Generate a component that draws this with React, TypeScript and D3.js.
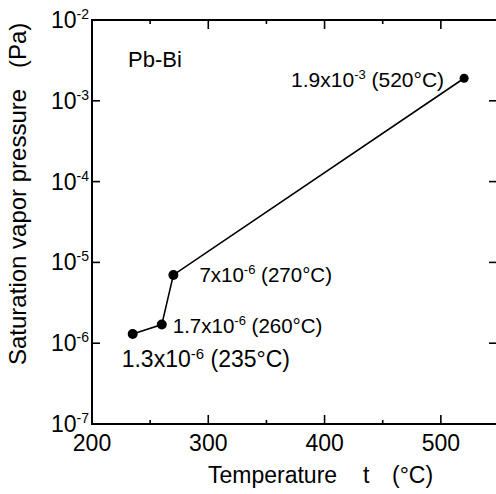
import { useRef, useEffect } from "react";
import * as d3 from "d3";

// measured points: Pb-Bi saturation vapor pressure
const temps = [235, 260, 270, 520];
const pressures = [1.3e-6, 1.7e-6, 7e-6, 1.9e-3];
const mantissas = ["1.3", "1.7", "7", "1.9"];
const exponents = ["-6", "-6", "-6", "-3"];

const xMajor = [200, 300, 400, 500];
const xMinor = [250, 350, 450];
const yDecades = [-2, -3, -4, -5, -6, -7];

// label placement relative to each point (layout only)
const labelOffsets = [
  { dx: -11, dy: 33, anchor: "start", size: 23 },
  { dx: 11, dy: 8, anchor: "start", size: 20.5 },
  { dx: 26, dy: 7, anchor: "start", size: 20.5 },
  { dx: -20, dy: 9, anchor: "end", size: 21 },
];

const FONT = "'Liberation Sans', Arial, sans-serif";

export default function App() {
  const svgRef = useRef<SVGSVGElement>(null);

  useEffect(() => {
    const svg = d3.select(svgRef.current);
    svg.selectAll("*").remove();

    const width = 496;
    const height = 494;
    const left = 92, right = 499, top = 20, bottom = 424;

    const x = d3.scaleLinear().domain([200, 550]).range([left, right]);
    const y = d3.scaleLog().domain([1e-7, 1e-2]).range([bottom, top]);

    svg.attr("width", width).attr("height", height)
      .style("font-family", FONT)
      .style("fill", "#000");

    // frame
    svg.append("rect")
      .attr("x", left).attr("y", top)
      .attr("width", right - left).attr("height", bottom - top)
      .attr("fill", "none").attr("stroke", "#000").attr("stroke-width", 2);

    // x ticks, bottom and top, pointing inward
    const tick = (vals: number[], len: number) => {
      vals.forEach(v => {
        svg.append("line")
          .attr("x1", x(v)).attr("x2", x(v))
          .attr("y1", bottom).attr("y2", bottom - len)
          .attr("stroke", "#000").attr("stroke-width", 1.6);
        svg.append("line")
          .attr("x1", x(v)).attr("x2", x(v))
          .attr("y1", top).attr("y2", top + len)
          .attr("stroke", "#000").attr("stroke-width", 1.6);
      });
    };
    tick(xMajor, 9);
    tick(xMinor, 4);

    // y ticks, left and right
    yDecades.forEach(e => {
      const yy = y(Math.pow(10, e));
      svg.append("line")
        .attr("x1", left).attr("x2", left + 8)
        .attr("y1", yy).attr("y2", yy)
        .attr("stroke", "#000").attr("stroke-width", 1.6);
      svg.append("line")
        .attr("x1", right).attr("x2", right - 10)
        .attr("y1", yy).attr("y2", yy)
        .attr("stroke", "#000").attr("stroke-width", 1.6);
    });

    // x tick labels
    xMajor.forEach(v => {
      svg.append("text")
        .attr("x", x(v)).attr("y", 451)
        .attr("text-anchor", "middle")
        .style("font-size", "23px")
        .text(v);
    });

    // y tick labels 10^e
    yDecades.forEach(e => {
      const yy = y(Math.pow(10, e));
      const t = svg.append("text")
        .attr("x", left - 3).attr("y", yy + 8)
        .attr("text-anchor", "end")
        .style("font-size", "23px");
      t.append("tspan").text("10");
      t.append("tspan").attr("dy", -9).style("font-size", "14px").text(String(e));
    });

    // axis titles
    const xTitle = [
      { s: "Temperature", at: 208 },
      { s: "t", at: 363 },
      { s: "(°C)", at: 392 },
    ];
    xTitle.forEach(p => {
      svg.append("text")
        .attr("x", p.at).attr("y", 483)
        .style("font-size", "23px")
        .text(p.s);
    });

    svg.append("text")
      .attr("transform", "translate(26, 365) rotate(-90)")
      .style("font-size", "24px")
      .text("Saturation vapor pressure");
    svg.append("text")
      .attr("transform", "translate(26, 68) rotate(-90)")
      .style("font-size", "24px")
      .text("(Pa)");

    svg.append("text")
      .attr("x", 128).attr("y", 67)
      .style("font-size", "22px")
      .text("Pb-Bi");

    // data line + markers
    const pts: [number, number][] = temps.map((t, i) => [x(t), y(pressures[i])]);
    svg.append("path")
      .attr("d", d3.line()(pts))
      .attr("fill", "none")
      .attr("stroke", "#000")
      .attr("stroke-width", 1.6);

    svg.selectAll("circle.pt")
      .data(pts)
      .enter()
      .append("circle")
      .attr("cx", d => d[0])
      .attr("cy", d => d[1])
      .attr("r", (d, i) => (i === 3 ? 4.5 : 5))
      .attr("fill", "#000");

    // point annotations
    pts.forEach(([px, py], i) => {
      const o = labelOffsets[i];
      const sup = Math.round(o.size * 0.64);
      const t = svg.append("text")
        .attr("x", px + o.dx).attr("y", py + o.dy)
        .attr("text-anchor", o.anchor)
        .style("font-size", `${o.size}px`);
      t.append("tspan").text(mantissas[i] + "x10");
      t.append("tspan").attr("dy", -8).style("font-size", `${sup}px`).text(exponents[i]);
      t.append("tspan").attr("dy", 8).text(` (${temps[i]}°C)`);
    });
  }, []);

  return (
    <svg
      ref={svgRef}
      style={{ position: "absolute", left: 0, top: 0, background: "#fff" }}
    ></svg>
  );
}
